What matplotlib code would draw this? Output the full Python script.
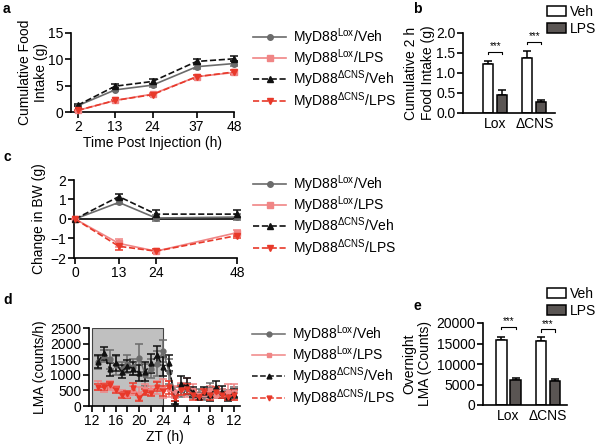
import matplotlib
matplotlib.use("Agg")
import matplotlib.pyplot as plt
import numpy as np

plt.rcParams['font.family'] = ['Liberation Sans', 'DejaVu Sans']
plt.rcParams['mathtext.fontset'] = 'custom'
plt.rcParams['mathtext.rm'] = 'Liberation Sans'
plt.rcParams['mathtext.it'] = 'Liberation Sans:italic'
plt.rcParams['mathtext.bf'] = 'Liberation Sans:bold'
plt.rcParams['font.size'] = 10
plt.rcParams['axes.linewidth'] = 1.2
plt.rcParams['xtick.major.width'] = 1.2
plt.rcParams['ytick.major.width'] = 1.2
plt.rcParams['xtick.major.size'] = 4
plt.rcParams['ytick.major.size'] = 4
plt.rcParams['xtick.major.pad'] = 2
plt.rcParams['ytick.major.pad'] = 1.5

# ---------------- data ----------------
series_labels = [r'MyD88$^{\mathrm{Lox}}$/Veh', r'MyD88$^{\mathrm{Lox}}$/LPS',
                 r'MyD88$^{\mathrm{ΔCNS}}$/Veh', r'MyD88$^{\mathrm{ΔCNS}}$/LPS']

# panel a: cumulative food intake
a_time = [2, 13, 24, 37, 48]
a_lox_veh = [1.2, 4.2, 5.1, 8.6, 9.2]
a_lox_veh_err = [0.15, 0.3, 0.3, 0.4, 0.4]
a_lox_lps = [0.3, 2.2, 3.4, 6.7, 7.5]
a_lox_lps_err = [0.1, 0.15, 0.2, 0.4, 0.4]
a_cns_veh = [1.3, 4.9, 5.8, 9.6, 10.1]
a_cns_veh_err = [0.15, 0.4, 0.4, 0.5, 0.5]
a_cns_lps = [0.3, 2.2, 3.3, 6.7, 7.6]
a_cns_lps_err = [0.1, 0.15, 0.2, 0.4, 0.4]

# panel b: 2 h food intake
b_groups = ['Lox', 'ΔCNS']
b_veh = [1.22, 1.37]
b_veh_err = [0.08, 0.17]
b_lps = [0.45, 0.27]
b_lps_err = [0.12, 0.05]

# panel c: change in BW
c_time = [0, 13, 24, 48]
c_lox_veh = [0, 0.85, 0.05, 0.1]
c_lox_veh_err = [0, 0.1, 0.15, 0.15]
c_lox_lps = [0, -1.25, -1.65, -0.7]
c_lox_lps_err = [0, 0.2, 0.1, 0.15]
c_cns_veh = [0, 1.15, 0.25, 0.25]
c_cns_veh_err = [0, 0.15, 0.2, 0.2]
c_cns_lps = [0, -1.4, -1.65, -0.85]
c_cns_lps_err = [0, 0.2, 0.1, 0.1]

# panel d: LMA over ZT (hours 13..36, 24-36 = next day 0-12)
d_zt = list(range(13, 37))
d_lox_veh = [1400, 1600, 1500, 1300, 1200, 1350, 1250, 1550, 1000, 1200, 1350, 1750,
             1100, 450, 500, 550, 400, 400, 350, 550, 400, 400, 350, 450]
d_lox_veh_err = [200, 200, 300, 300, 200, 300, 250, 450, 350, 300, 400, 350,
                 400, 150, 200, 200, 150, 150, 150, 200, 150, 150, 150, 150]
d_lox_lps = [650, 600, 650, 550, 400, 350, 500, 400, 550, 500, 600, 550,
             550, 450, 550, 600, 500, 350, 400, 500, 350, 400, 450, 450]
d_lox_lps_err = [150, 150, 150, 100, 100, 100, 150, 200, 150, 150, 200, 300,
                 250, 200, 200, 300, 200, 100, 150, 150, 100, 150, 250, 250]
d_cns_veh = [1420, 1690, 1175, 1370, 1100, 1280, 1200, 1050, 1100, 1370, 1630, 1260,
             1380, 100, 700, 650, 450, 300, 450, 350, 600, 450, 300, 400]
d_cns_veh_err = [200, 200, 200, 250, 200, 200, 200, 250, 300, 300, 300, 300,
                 250, 50, 250, 250, 150, 100, 150, 200, 200, 200, 150, 150]
d_cns_lps = [620, 600, 680, 520, 350, 370, 580, 250, 450, 420, 620, 480,
             600, 250, 500, 550, 350, 300, 450, 350, 450, 350, 300, 350]
d_cns_lps_err = [100, 100, 100, 100, 100, 100, 150, 100, 100, 100, 150, 150,
                 200, 100, 150, 150, 150, 100, 100, 150, 150, 100, 100, 150]
d_tick_pos = [12, 16, 20, 24, 28, 32, 36]
d_tick_labels = ['12', '16', '20', '24', '4', '8', '12']

# panel e: overnight LMA
e_groups = ['Lox', 'ΔCNS']
e_veh = [15800, 15600]
e_veh_err = [900, 1000]
e_lps = [6100, 5900]
e_lps_err = [400, 400]

# ---------------- styles ----------------
C_GREY = '#6b6b6b'
C_PINK = '#f08585'
C_BLACK = '#111111'
C_RED = '#e8392a'
BAR_DARK = '#5a5553'
styles = [
    dict(color=C_GREY, ls='-', marker='o'),
    dict(color=C_PINK, ls='-', marker='s'),
    dict(color=C_BLACK, ls='--', marker='^'),
    dict(color=C_RED, ls='--', marker='v'),
]

fig = plt.figure(figsize=(6.0, 4.48), dpi=100)
W, H = 600.0, 448.0

def add_ax(l, r, t, b):
    return fig.add_axes([l / W, 1 - b / H, (r - l) / W, (b - t) / H])

def clean(ax):
    ax.spines['top'].set_visible(False)
    ax.spines['right'].set_visible(False)

def line_panel(ax, x, ys, errs, ms=4, lw=1.2):
    for y, e, st, lab in zip(ys, errs, styles, series_labels):
        ax.errorbar(x, y, yerr=e, color=st['color'], ls=st['ls'], marker=st['marker'],
                    ms=ms, lw=lw, capsize=3, elinewidth=1.1, capthick=1.1,
                    label=lab, clip_on=False, zorder=3)

def legend_lines(ax, top_y, left_x, spacing=-0.02):
    hs, ls = ax.get_legend_handles_labels()
    hs = [h[0] for h in hs]
    fig.legend(hs, ls, loc='upper left', bbox_to_anchor=(left_x / W, 1 - top_y / H),
               frameon=False, borderpad=0, borderaxespad=0, handlelength=2.4,
               handletextpad=0.45, labelspacing=spacing, fontsize=10)

def bar_panel(ax, veh, veh_err, lps, lps_err, groups, brackets, star_off):
    xs = np.arange(1, len(groups) + 1)
    off = 0.18
    w = 0.26
    ax.bar(xs - off, veh, w, color='white', edgecolor='black', lw=1.1, label='Veh', zorder=2)
    ax.bar(xs + off, lps, w, color=BAR_DARK, edgecolor='black', lw=1.1, label='LPS', zorder=2)
    ax.errorbar(xs - off, veh, yerr=[np.zeros(len(veh)), veh_err], fmt='none', ecolor='black',
                elinewidth=1.1, capsize=3, capthick=1.1, zorder=1)
    ax.errorbar(xs + off, lps, yerr=[np.zeros(len(lps)), lps_err], fmt='none', ecolor='black',
                elinewidth=1.1, capsize=3, capthick=1.1, zorder=1)
    for xc, by in zip(xs, brackets):
        tick = star_off * 0.5
        ax.plot([xc - off, xc - off, xc + off, xc + off], [by - tick, by, by, by - tick],
                color='black', lw=0.8, clip_on=False)
        ax.text(xc, by + star_off * 0.1, '***', ha='center', va='bottom', fontsize=7)
    ax.set_xticks(xs)
    ax.set_xticklabels(groups)
    ax.tick_params(axis='x', length=0, pad=3)

# ---------------- panel a ----------------
axa = add_ax(71, 234, 33, 112)
clean(axa)
line_panel(axa, a_time, [a_lox_veh, a_lox_lps, a_cns_veh, a_cns_lps],
           [a_lox_veh_err, a_lox_lps_err, a_cns_veh_err, a_cns_lps_err])
axa.set_xlim(0, 48)
axa.set_ylim(0, 15)
axa.set_xticks(a_time)
axa.set_yticks([0, 5, 10, 15])
axa.set_xlabel('Time Post Injection (h)', labelpad=1)
axa.set_ylabel('Cumulative Food\nIntake (g)', labelpad=0)
legend_lines(axa, 26, 253)

# ---------------- panel b ----------------
axb = add_ax(463, 555, 33, 113)
clean(axb)
bar_panel(axb, b_veh, b_veh_err, b_lps, b_lps_err, b_groups, [1.53, 1.78], 0.12)
axb.set_xlim(0.17, 2.53)
axb.set_ylim(0, 2.0)
axb.set_yticks([0, 0.5, 1.0, 1.5, 2.0])
axb.set_yticklabels(['0.0', '0.5', '1.0', '1.5', '2.0'])
axb.set_ylabel('Cumulative 2 h\nFood Intake (g)', labelpad=1)
hb, lb = axb.get_legend_handles_labels()
fig.legend(hb, lb, loc='upper left', bbox_to_anchor=(547 / W, 1 - 5 / H), frameon=False,
           borderpad=0, borderaxespad=0, handlelength=1.35, handleheight=0.75,
           handletextpad=0.3, labelspacing=0.2, fontsize=10)

# ---------------- panel c ----------------
axc = add_ax(74, 237, 180, 258)
clean(axc)
axc.axhline(0, color='black', lw=1.2, zorder=2)
line_panel(axc, c_time, [c_lox_veh, c_lox_lps, c_cns_veh, c_cns_lps],
           [c_lox_veh_err, c_lox_lps_err, c_cns_veh_err, c_cns_lps_err])
axc.set_xlim(-0.3, 48)
axc.set_ylim(-2, 2)
axc.set_xticks(c_time)
axc.set_yticks([-2, -1, 0, 1, 2])
axc.set_ylabel('Change in BW (g)', labelpad=3)
legend_lines(axc, 173, 253)

# ---------------- panel d ----------------
axd = add_ax(89, 240, 328, 406)
clean(axd)
axd.axvspan(12, 24, ymin=0, ymax=1, facecolor='#c0c0c0', edgecolor='#444444', lw=0.8, zorder=0)
line_panel(axd, d_zt, [d_lox_veh, d_lox_lps, d_cns_veh, d_cns_lps],
           [d_lox_veh_err, d_lox_lps_err, d_cns_veh_err, d_cns_lps_err], ms=3.5, lw=1.1)
axd.set_xlim(11.5, 37)
axd.set_ylim(0, 2500)
axd.set_xticks(d_tick_pos)
axd.set_xticklabels(d_tick_labels)
axd.set_xticks(np.arange(12, 37, 2), minor=True)
axd.tick_params(axis='x', which='minor', length=4, width=1.2)
axd.set_yticks([0, 500, 1000, 1500, 2000, 2500])
axd.set_xlabel('ZT (h)', labelpad=1)
axd.set_ylabel('LMA (counts/h)', labelpad=2)
legend_lines(axd, 323, 252)

# ---------------- panel e ----------------
axe = add_ax(483, 567, 323, 405)
clean(axe)
bar_panel(axe, e_veh, e_veh_err, e_lps, e_lps_err, e_groups, [19100, 18500], 1200)
axe.set_xlim(0.355, 2.48)
axe.set_ylim(0, 20000)
axe.set_yticks([0, 5000, 10000, 15000, 20000])
axe.set_ylabel('Overnight\nLMA (Counts)', labelpad=3)
he, le = axe.get_legend_handles_labels()
fig.legend(he, le, loc='upper left', bbox_to_anchor=(547 / W, 1 - 287 / H), frameon=False,
           borderpad=0, borderaxespad=0, handlelength=1.35, handleheight=0.75,
           handletextpad=0.3, labelspacing=0.2, fontsize=10)

# panel labels
for txt, x, y in [('a', 3, 9), ('b', 413, 9), ('c', 3, 157), ('d', 3, 300), ('e', 413, 306)]:
    fig.text(x / W, 1 - y / H, txt, fontsize=10, fontweight='bold', ha='left', va='center')

fig.savefig('out.png', dpi=100)
